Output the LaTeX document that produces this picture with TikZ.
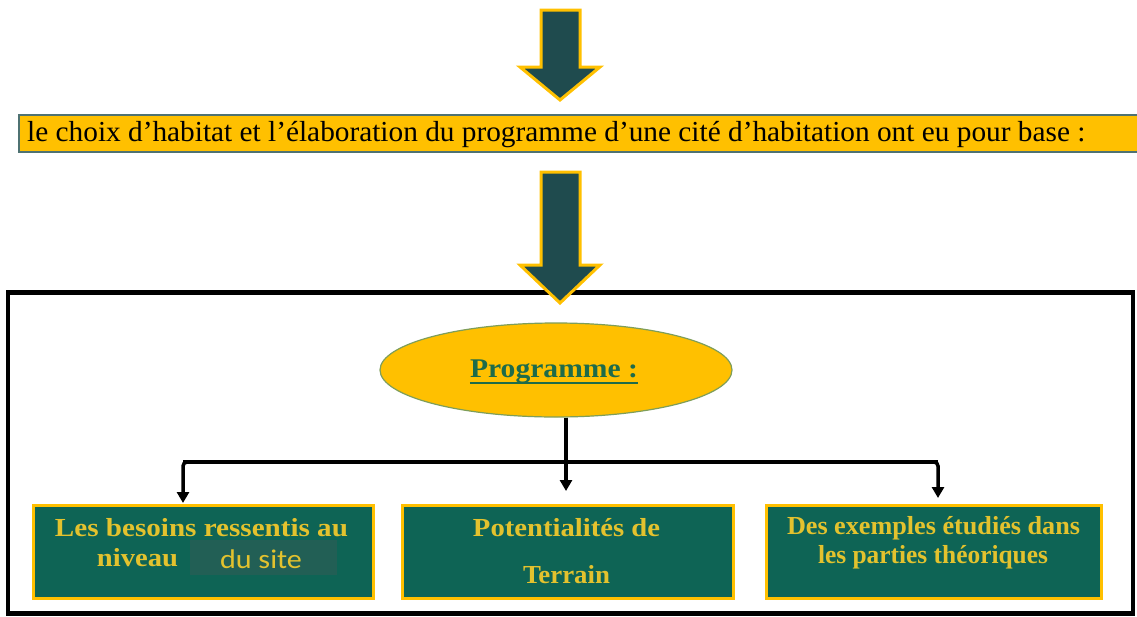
\documentclass[tikz,border=0pt]{standalone}
\usepackage{fontspec}
\usepackage{graphicx}
\setmainfont{Liberation Serif}
\newfontfamily\calfont{Carlito}
\usetikzlibrary{shapes.geometric,arrows.meta}
\definecolor{gold}{HTML}{FFC000}
\definecolor{arrowteal}{HTML}{1F4B4E}
\definecolor{bannerline}{HTML}{4F7272}
\definecolor{boxgreen}{HTML}{0E6455}
\definecolor{boxtext}{HTML}{E3C22E}
\definecolor{patch}{HTML}{225F55}
\definecolor{progtext}{HTML}{1E6B4A}
\definecolor{ellline}{HTML}{7E9E5A}
\tikzset{
  bigarrow/.style={fill=arrowteal,draw=gold,line width=3pt,line join=miter},
  greenbox/.style={rectangle,fill=boxgreen,draw=gold,line width=3pt,inner sep=0pt},
  boxlabel/.style={inner sep=0pt,text=boxtext,font=\fontsize{26}{30}\selectfont\bfseries},
  conn/.style={draw=black,line width=3.5pt,rounded corners=4pt,-{Triangle[length=11pt,width=12pt]}},
  connline/.style={draw=black,line width=3.5pt,rounded corners=4pt}
}
\newcommand{\fitw}[2]{\resizebox{#1pt}{\height}{#2}}
\begin{document}
\begin{tikzpicture}[x=1pt,y=-1pt]
\useasboundingbox (0,0) rectangle (1137,616);
% top arrow
\draw[bigarrow] (541,10) -- (580,10) -- (580,67) -- (600,67) -- (560,100) -- (520,67) -- (541,67) -- cycle;
% banner
\node[rectangle,fill=gold,draw=bannerline,line width=1.5pt,minimum width=1130pt,minimum height=37pt,anchor=west,inner sep=0pt] (banner) at (18,133.5) {};
\node[inner sep=0pt,anchor=west] (bannertext) at (27,135) {\fitw{1058}{\fontsize{29}{32}\selectfont le choix d’habitat et l’élaboration du programme d’une cité d’habitation ont eu pour base :}};
% frame
\node[rectangle,draw=black,line width=4.5pt,fill=white,minimum width=1125pt,minimum height=321pt,inner sep=0pt] (frame) at (570.5,453) {};
% second arrow
\draw[bigarrow] (541,172) -- (580,172) -- (580,265) -- (600,265) -- (560,303) -- (520,265) -- (541,265) -- cycle;
% ellipse
\node[ellipse,fill=gold,draw=ellline,line width=1.2pt,minimum width=352pt,minimum height=94pt,inner sep=0pt] (prog) at (556,370) {};
\node[inner sep=0pt,text=progtext] (progtext) at (554,372) {\fitw{168}{\fontsize{27}{30}\selectfont\bfseries Programme :}};
\draw[progtext,line width=2pt] (progtext.south west |- 0,383) -- (progtext.south east |- 0,383);
% boxes
\node[greenbox,minimum width=340pt,minimum height=93pt] (b1) at (203,551.5) {};
\node[greenbox,minimum width=331pt,minimum height=93pt] (b2) at (567.5,551.5) {};
\node[greenbox,minimum width=335pt,minimum height=93pt] (b3) at (933.5,551.5) {};
% box texts
\node[boxlabel] (t1a) at (201.5,528) {\fitw{293}{Les besoins ressentis au}};
\node[boxlabel] (t1b) at (137.5,558) {\fitw{81}{niveau}};
\node[rectangle,fill=patch,minimum width=147pt,minimum height=35pt,inner sep=0pt] (patch) at (263.5,557.5) {};
\node[inner sep=0pt,text=boxtext] (t1c) at (261,559) {\fitw{82}{\calfont\fontsize{27}{30}\selectfont du site}};
\node[boxlabel] (t2a) at (566.5,528) {\fitw{187}{Potentialités de}};
\node[boxlabel] (t2b) at (566.5,575) {\fitw{87}{Terrain}};
\node[boxlabel] (t3a) at (933.5,528) {\fitw{293}{Des exemples étudiés dans}};
\node[boxlabel] (t3b) at (933,557) {\fitw{230}{les parties théoriques}};
% connectors
\coordinate (jm) at (566,462);
\coordinate (jl) at (183,462);
\coordinate (jr) at (938,462);
\coordinate (el) at (183,503);
\coordinate (em) at (566,491);
\coordinate (er) at (938,498);
\draw[conn] (prog.south -| jm) -- (em);
\draw[connline] (jm) -- (jl);
\draw[connline] (jm) -- (jr);
\draw[conn] ([xshift=6pt]jl) -- (jl) -- (el);
\draw[conn] ([xshift=-6pt]jr) -- (jr) -- (er);
\end{tikzpicture}
\end{document}
